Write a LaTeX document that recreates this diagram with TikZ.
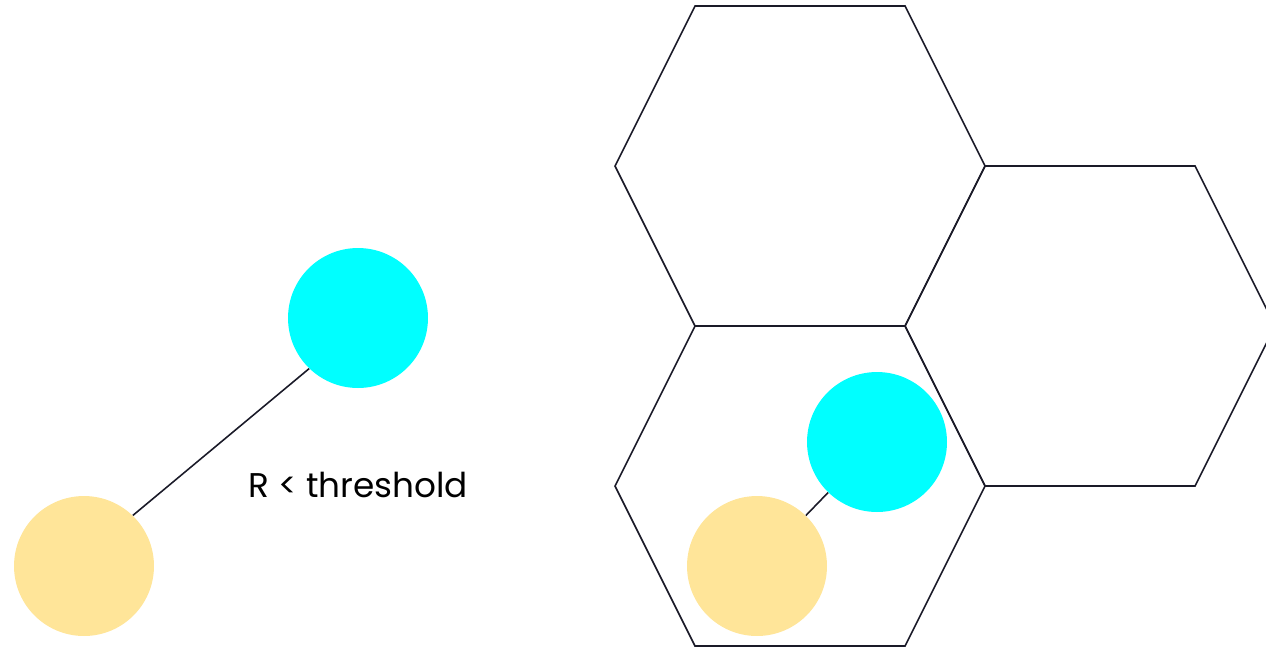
\documentclass[tikz,border=0pt]{standalone}
\usepackage{fontspec}
\setmainfont{Poppins}
\definecolor{DotCyan}{RGB}{0,255,255}
\definecolor{DotSand}{RGB}{255,229,153}
\definecolor{EdgeInk}{RGB}{26,26,40}
\tikzset{
  dot/.style={circle, inner sep=0pt, minimum size=2.8cm},
  cell/.style={draw=EdgeInk, line width=0.9pt, line join=miter},
  link/.style={draw=EdgeInk, line width=0.9pt}
}

\begin{document}
\begin{tikzpicture}[x=0.02cm, y=-0.02cm]
  \useasboundingbox (0,0) rectangle (1266,647);
  \begin{scope}
    \clip (0,0) rectangle (1266,647);
    % hexagonal cells
    \draw[cell] (695,6) -- (905,6) -- (985,166) -- (905,326) -- (695,326) -- (615,166) -- cycle;
    \draw[cell] (985,166) -- (1195,166) -- (1275,326) -- (1195,486) -- (985,486) -- (905,326) -- cycle;
    \draw[cell] (695,326) -- (905,326) -- (985,486) -- (905,646) -- (695,646) -- (615,486) -- cycle;
  \end{scope}

  % left pair
  \node[dot, fill=DotSand] (sandL) at (84,566) {};
  \node[dot, fill=DotCyan] (cyanL) at (358,318) {};
  \draw[link] (sandL.46) -- (cyanL.226);
  \node[font=\fontsize{19.5}{22}\selectfont, anchor=base] (thr) at (358,497) {R < threshold};

  % pair inside a cell
  \node[dot, fill=DotSand] (sandR) at (757,566) {};
  \node[dot, fill=DotCyan] (cyanR) at (877,442) {};
  \draw[link] (sandR) -- (cyanR);
\end{tikzpicture}
\end{document}
